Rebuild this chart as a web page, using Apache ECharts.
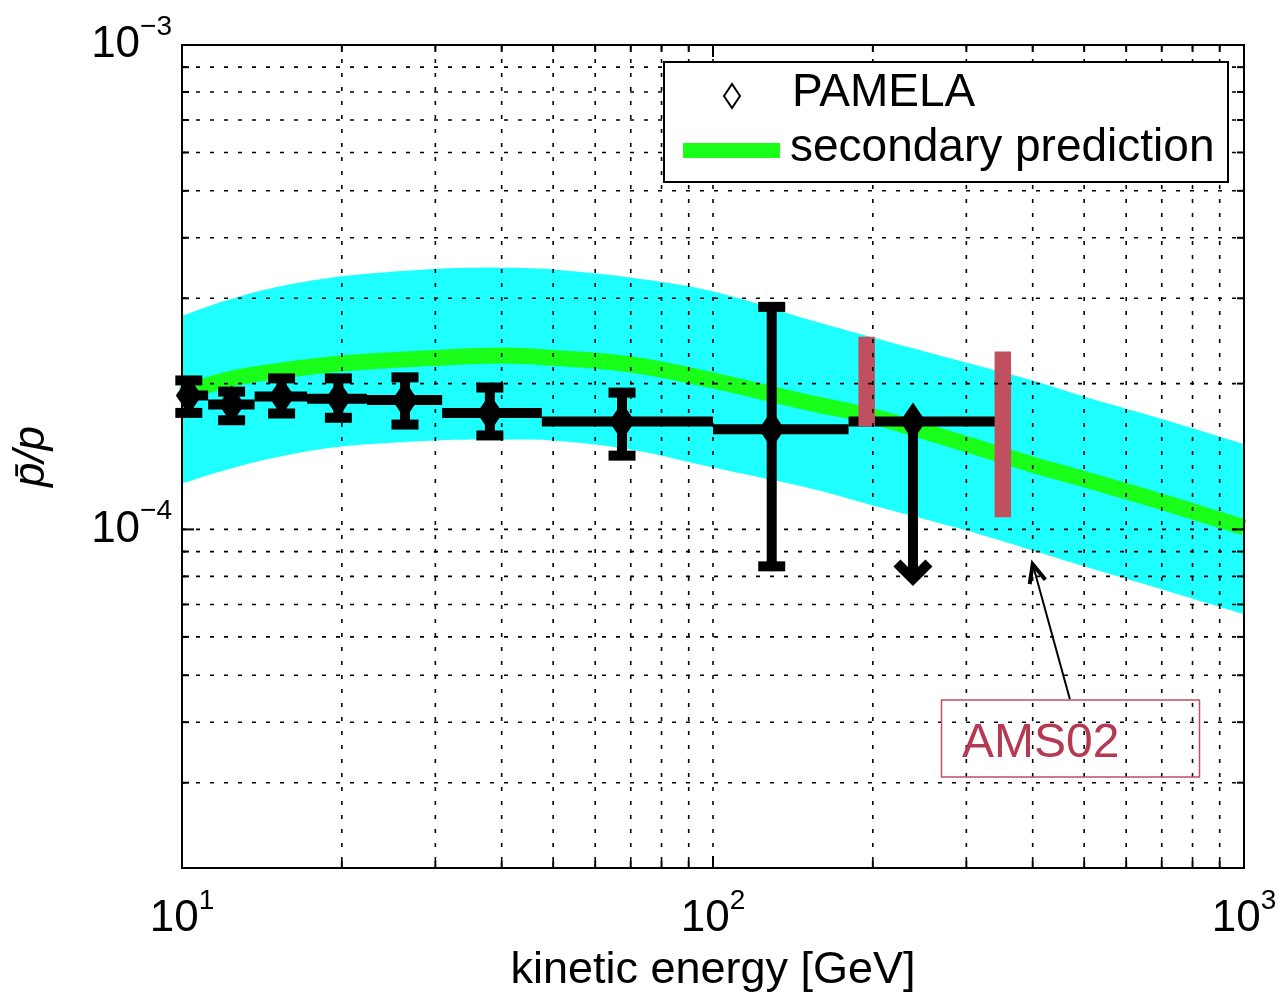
<!DOCTYPE html>
<html>
<head>
<meta charset="utf-8">
<title>pbar/p ratio</title>
<script src="https://cdn.jsdelivr.net/npm/echarts@6/dist/echarts.min.js"></script>
<style>
html, body { margin: 0; padding: 0; background: #fff; }
#main { width: 1279px; height: 993px; }
</style>
</head>
<body>
<div id="main"></div>
<script>
// PAMELA antiproton / proton ratio
var pamelaE    = [10.3, 12.4, 15.4, 19.7, 26.3, 38.0, 67.4, 129, 238];
var pamelaVal  = [1.89e-4, 1.81e-4, 1.88e-4, 1.86e-4, 1.85e-4, 1.74e-4, 1.67e-4, 1.61e-4, 1.67e-4];
var pamelaLo   = [1.74e-4, 1.68e-4, 1.735e-4, 1.70e-4, 1.646e-4, 1.563e-4, 1.42e-4, 8.39e-5, 7.9e-5];
var pamelaHi   = [2.03e-4, 1.925e-4, 2.05e-4, 2.05e-4, 2.06e-4, 1.963e-4, 1.916e-4, 2.88e-4, 1.67e-4];
var binEdges   = [10, 11.2, 13.7, 17.2, 22.3, 30.9, 47.6, 100, 180, 340];
var upperLimit = [0, 0, 0, 0, 0, 0, 0, 0, 1];

// secondary prediction with its uncertainty band
var bandE     = [10, 12, 15, 20, 30, 40, 50, 70, 100, 150, 200, 300, 400, 500, 700, 1000];
var bandHi    = [2.76e-4, 2.96e-4, 3.16e-4, 3.33e-4, 3.45e-4, 3.47e-4, 3.44e-4, 3.31e-4, 3.10e-4, 2.72e-4, 2.49e-4, 2.21e-4, 2.03e-4, 1.88e-4, 1.69e-4, 1.50e-4];
var bandLo    = [1.244e-4, 1.323e-4, 1.408e-4, 1.483e-4, 1.526e-4, 1.533e-4, 1.526e-4, 1.462e-4, 1.342e-4, 1.221e-4, 1.121e-4, 9.95e-5, 9.05e-5, 8.39e-5, 7.52e-5, 6.68e-5];
var secondary = [1.90e-4, 2.03e-4, 2.12e-4, 2.20e-4, 2.26e-4, 2.285e-4, 2.26e-4, 2.19e-4, 2.03e-4, 1.83e-4, 1.71e-4, 1.50e-4, 1.36e-4, 1.27e-4, 1.14e-4, 1.01e-4];

// AMS02 projected sensitivity bars
var amsE  = [194.7, 351.4];
var amsLo = [1.631e-4, 1.059e-4];
var amsHi = [2.50e-4, 2.33e-4];

// annotation arrow: tip and tail
var arrowTip  = [400, 8.47e-5];
var arrowTail = [470, 4.46e-5];

// grid lines
var xGridVals = [20, 30, 40, 50, 60, 70, 80, 90, 100, 200, 300, 400, 500, 600, 700, 800, 900];
var yGridVals = [3e-5, 4e-5, 5e-5, 6e-5, 7e-5, 8e-5, 9e-5, 1e-4, 2e-4, 3e-4, 4e-4, 5e-4, 6e-4, 7e-4, 8e-4, 9e-4];

var X_MIN = 10, X_MAX = 1000, Y_MIN = 2e-5, Y_MAX = 1e-3;
var FONT = '"Liberation Sans", Arial, Helvetica, sans-serif';

var chart = echarts.init(document.getElementById('main'));

function isPow10(v) {
    var l = Math.log10(v);
    return Math.abs(l - Math.round(l)) < 1e-6;
}
function powLabel(v) {
    if (!isPow10(v)) return '';
    var e = Math.round(Math.log10(v));
    return '{b|10}{s|' + (e < 0 ? '\u2212' + (-e) : e) + '}';
}
var richLabel = {
    b: { fontSize: 44, lineHeight: 44, fontFamily: FONT, color: '#000', verticalAlign: 'bottom' },
    s: { fontSize: 28, lineHeight: 28, fontFamily: FONT, color: '#000', verticalAlign: 'bottom', padding: [0, 0, 26, 0] }
};

// smooth pixel curve through the given points (catmull-rom)
function smoothPts(pts) {
    var out = [];
    for (var i = 0; i < pts.length - 1; i++) {
        var p0 = pts[i - 1] || pts[i], p1 = pts[i], p2 = pts[i + 1], p3 = pts[i + 2] || pts[i + 1];
        for (var k = 0; k < 12; k++) {
            var t = k / 12, t2 = t * t, t3 = t2 * t;
            out.push([0, 1].map(function (d) {
                return 0.5 * ((2 * p1[d]) + (-p0[d] + p2[d]) * t + (2 * p0[d] - 5 * p1[d] + 4 * p2[d] - p3[d]) * t2 + (-p0[d] + 3 * p1[d] - 3 * p2[d] + p3[d]) * t3);
            }));
        }
    }
    out.push(pts[pts.length - 1]);
    return out;
}

// cyan band, one polygon
function renderBand(params, api) {
    if (params.dataIndex !== 0) return;
    var top = [], bot = [];
    for (var i = 0; i < bandE.length; i++) {
        top.push(api.coord([bandE[i], bandHi[i]]));
        bot.push(api.coord([bandE[i], bandLo[i]]));
    }
    var pts = smoothPts(top).concat(smoothPts(bot).reverse());
    return { type: 'polygon', shape: { points: pts }, style: { fill: '#1effff', stroke: null } };
}

var dotted = { stroke: '#000', lineWidth: 1.6, lineDash: [4, 10] };
var tickStyle = { stroke: '#000', lineWidth: 2 };

function renderXGrid(params, api) {
    var cs = params.coordSys;
    var v = api.value(0);
    var x = api.coord([v, Y_MAX])[0];
    var len = isPow10(v) ? 12 : 7;
    var kids = [
        { type: 'line', shape: { x1: x, y1: cs.y, x2: x, y2: cs.y + cs.height }, style: dotted },
        { type: 'line', shape: { x1: x, y1: cs.y + cs.height, x2: x, y2: cs.y + cs.height - len }, style: tickStyle },
        { type: 'line', shape: { x1: x, y1: cs.y, x2: x, y2: cs.y + len }, style: tickStyle }
    ];
    if (params.dataIndex === 0) {
        kids.push({ type: 'rect', shape: { x: cs.x, y: cs.y, width: cs.width, height: cs.height },
            style: { fill: null, stroke: '#000', lineWidth: 2 } });
    }
    return { type: 'group', children: kids };
}

function renderYGrid(params, api) {
    var cs = params.coordSys;
    var v = api.value(1);
    var y = api.coord([X_MIN, v])[1];
    var len = isPow10(v) ? 12 : 7;
    return { type: 'group', children: [
        { type: 'line', shape: { x1: cs.x, y1: y, x2: cs.x + cs.width, y2: y }, style: dotted },
        { type: 'line', shape: { x1: cs.x, y1: y, x2: cs.x + len, y2: y }, style: tickStyle },
        { type: 'line', shape: { x1: cs.x + cs.width, y1: y, x2: cs.x + cs.width - len, y2: y }, style: tickStyle }
    ] };
}

function renderErrorBar(params, api) {
    var e = api.value(0), v = api.value(1);
    var c = api.coord([e, v]);
    var left = api.coord([api.value(2), v]);
    var right = api.coord([api.value(3), v]);
    var lo = api.coord([e, api.value(4)]);
    var hi = api.coord([e, api.value(5)]);
    var st = { stroke: '#000', lineWidth: 10, fill: null };
    var kids = [
        { type: 'line', shape: { x1: left[0], y1: c[1], x2: right[0], y2: c[1] }, style: st },
        { type: 'line', shape: { x1: c[0], y1: hi[1], x2: c[0], y2: lo[1] }, style: st },
        { type: 'polygon', shape: { points: [[c[0], c[1] - 19], [c[0] + 13, c[1]], [c[0], c[1] + 19], [c[0] - 13, c[1]]] },
          style: { fill: '#000' } }
    ];
    if (api.value(6)) {
        kids.push({ type: 'polyline', shape: { points: [[c[0] - 16, lo[1] - 16], [c[0], lo[1]], [c[0] + 16, lo[1] - 16]] },
            style: { stroke: '#000', lineWidth: 10, fill: null, lineJoin: 'miter' } });
    } else {
        kids.push({ type: 'line', shape: { x1: c[0] - 13.5, y1: hi[1], x2: c[0] + 13.5, y2: hi[1] }, style: st });
        kids.push({ type: 'line', shape: { x1: c[0] - 13.5, y1: lo[1], x2: c[0] + 13.5, y2: lo[1] }, style: st });
    }
    return { type: 'group', children: kids };
}

function renderAms(params, api) {
    var top = api.coord([api.value(0), api.value(2)]);
    var bot = api.coord([api.value(0), api.value(1)]);
    return { type: 'rect', shape: { x: top[0] - 8.25, y: top[1], width: 16.5, height: bot[1] - top[1] },
        style: { fill: '#c05060' } };
}

function renderArrow(params, api) {
    var tip = api.coord([api.value(0), api.value(1)]);
    var tail = api.coord([api.value(2), api.value(3)]);
    var ang = Math.atan2(tail[1] - tip[1], tail[0] - tip[0]);
    var L = 20, a = 0.42;
    var p1 = [tip[0] + L * Math.cos(ang - a), tip[1] + L * Math.sin(ang - a)];
    var p2 = [tip[0] + L * Math.cos(ang + a), tip[1] + L * Math.sin(ang + a)];
    return { type: 'group', children: [
        { type: 'line', shape: { x1: tail[0], y1: tail[1], x2: tip[0], y2: tip[1] }, style: { stroke: '#000', lineWidth: 2 } },
        { type: 'polyline', shape: { points: [p1, tip, p2] }, style: { stroke: '#000', lineWidth: 4, fill: null } }
    ] };
}

var option = {
    animation: false,
    backgroundColor: '#fff',
    textStyle: { fontFamily: FONT },
    grid: { left: 182, right: 35, top: 45, bottom: 125, outerBoundsMode: 'none' },
    xAxis: {
        type: 'log', logBase: 10, min: X_MIN, max: X_MAX,
        name: 'kinetic energy [GeV]', nameLocation: 'middle', nameGap: 80, nameMoveOverlap: false,
        nameTextStyle: { fontSize: 45, color: '#000', fontFamily: FONT },
        axisLine: { show: false }, axisTick: { show: false }, splitLine: { show: false },
        axisLabel: { formatter: powLabel, rich: richLabel, margin: 29 }
    },
    yAxis: {
        type: 'log', logBase: 10, min: Y_MIN, max: Y_MAX,
        name: 'p\u0304/p', nameLocation: 'middle', nameGap: 128, nameMoveOverlap: false,
        nameTextStyle: { fontSize: 44, color: '#000', fontStyle: 'italic', fontFamily: FONT },
        axisLine: { show: false }, axisTick: { show: false }, splitLine: { show: false },
        axisLabel: { formatter: powLabel, rich: richLabel, margin: 10 }
    },
    graphic: [
        // legend
        { type: 'rect', z: 100, shape: { x: 664, y: 62, width: 564, height: 120 },
          style: { fill: '#fff', stroke: '#000', lineWidth: 2 } },
        { type: 'polygon', z: 101, shape: { points: [[732, 84], [740, 96], [732, 108], [724, 96]] },
          style: { fill: null, stroke: '#000', lineWidth: 2 } },
        { type: 'rect', z: 101, shape: { x: 683, y: 143, width: 97, height: 15 }, style: { fill: '#19ff19' } },
        { type: 'text', z: 101, x: 792, y: 93, style: { text: 'PAMELA', font: '46px ' + FONT, fill: '#000', verticalAlign: 'middle' } },
        { type: 'text', z: 101, x: 790, y: 148, style: { text: 'secondary prediction', font: '46px ' + FONT, fill: '#000', verticalAlign: 'middle' } },
        // AMS02 note
        { type: 'rect', z: 100, shape: { x: 941.5, y: 700, width: 258, height: 77 },
          style: { fill: null, stroke: '#c05060', lineWidth: 1.5 } },
        { type: 'text', z: 101, x: 962, y: 744, style: { text: 'AMS02', font: '48px ' + FONT, fill: '#b43a52', verticalAlign: 'middle' } }
    ],
    series: [
        { type: 'custom', name: 'band', z: 1, clip: true, renderItem: renderBand,
          data: bandE.map(function (e, i) { return [e, bandLo[i], bandHi[i]]; }) },
        { type: 'line', name: 'secondary prediction', z: 2, smooth: 0.4, symbol: 'none', clip: true,
          lineStyle: { width: 16, color: '#19ff19', cap: 'butt' },
          data: bandE.map(function (e, i) { return [e, secondary[i]]; }) },
        { type: 'custom', name: 'PAMELA', z: 4, clip: false, renderItem: renderErrorBar,
          data: pamelaE.map(function (e, i) { return [e, pamelaVal[i], binEdges[i], binEdges[i + 1], pamelaLo[i], pamelaHi[i], upperLimit[i]]; }) },
        { type: 'custom', name: 'AMS02', z: 6, renderItem: renderAms,
          data: amsE.map(function (e, i) { return [e, amsLo[i], amsHi[i]]; }) },
        { type: 'custom', name: 'arrow', z: 6, clip: false, renderItem: renderArrow,
          data: [[arrowTip[0], arrowTip[1], arrowTail[0], arrowTail[1]]] },
        { type: 'custom', name: 'xgrid', z: 7, clip: false, silent: true, renderItem: renderXGrid,
          data: xGridVals.map(function (v) { return [v, Y_MAX]; }) },
        { type: 'custom', name: 'ygrid', z: 7, clip: false, silent: true, renderItem: renderYGrid,
          data: yGridVals.map(function (v) { return [X_MIN, v]; }) }
    ]
};

chart.setOption(option);
</script>
</body>
</html>
